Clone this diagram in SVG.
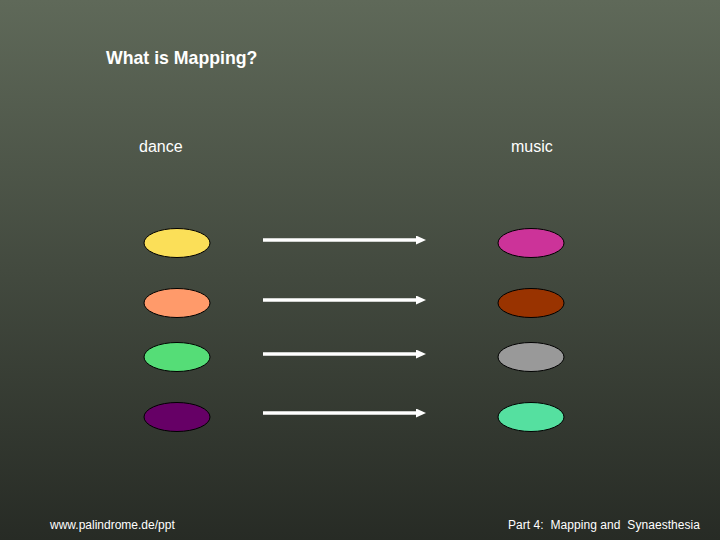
<svg xmlns="http://www.w3.org/2000/svg" width="720" height="540" viewBox="0 0 720 540">
  <defs>
    <linearGradient id="bg" x1="0" y1="0" x2="0" y2="1">
      <stop offset="0" stop-color="#5f6959"/>
      <stop offset="1" stop-color="#272b25"/>
    </linearGradient>
    <marker id="ah" markerWidth="10" markerHeight="9" refX="0" refY="4.5" orient="auto" markerUnits="userSpaceOnUse">
      <path d="M0,0 L10,4.5 L0,9 Z" fill="#ffffff"/>
    </marker>
    <style>
      text { font-family: "Liberation Sans", Arial, sans-serif; fill: #ffffff; }
      .title { font-size: 17.7px; font-weight: bold; }
      .label { font-size: 16px; }
      .foot { font-size: 12px; }
      .node ellipse { stroke: #000000; stroke-width: 1; }
      .conn line { stroke: #ffffff; stroke-width: 3.5; }
    </style>
  </defs>
  <rect width="720" height="540" fill="url(#bg)"/>
  <text class="title" x="106" y="64">What is Mapping?</text>
  <text class="label" x="139" y="152">dance</text>
  <text class="label" x="511" y="152">music</text>

  <g id="dance1" class="node"><ellipse cx="177" cy="243" rx="33" ry="14.5" fill="#fbdf58"/></g>
  <g id="dance2" class="node"><ellipse cx="177" cy="303" rx="33" ry="14.5" fill="#ff9a6a"/></g>
  <g id="dance3" class="node"><ellipse cx="177" cy="357" rx="33" ry="14.5" fill="#55dd77"/></g>
  <g id="dance4" class="node"><ellipse cx="177" cy="417" rx="33" ry="14.5" fill="#660066"/></g>

  <g id="music1" class="node"><ellipse cx="531" cy="243" rx="33" ry="14.5" fill="#cc3399"/></g>
  <g id="music2" class="node"><ellipse cx="531" cy="303" rx="33" ry="14.5" fill="#993300"/></g>
  <g id="music3" class="node"><ellipse cx="531" cy="357" rx="33" ry="14.5" fill="#999999"/></g>
  <g id="music4" class="node"><ellipse cx="531" cy="417" rx="33" ry="14.5" fill="#55e0a0"/></g>

  <g id="connectors" class="conn">
    <line x1="263" y1="240" x2="416" y2="240" marker-end="url(#ah)"/>
    <line x1="263" y1="300" x2="416" y2="300" marker-end="url(#ah)"/>
    <line x1="263" y1="354" x2="416" y2="354" marker-end="url(#ah)"/>
    <line x1="263" y1="413" x2="416" y2="413" marker-end="url(#ah)"/>
  </g>

  <text class="foot" x="50" y="529">www.palindrome.de/ppt</text>
  <text class="foot" x="508" y="529" xml:space="preserve" textLength="192">Part 4:  Mapping and  Synaesthesia</text>
</svg>
